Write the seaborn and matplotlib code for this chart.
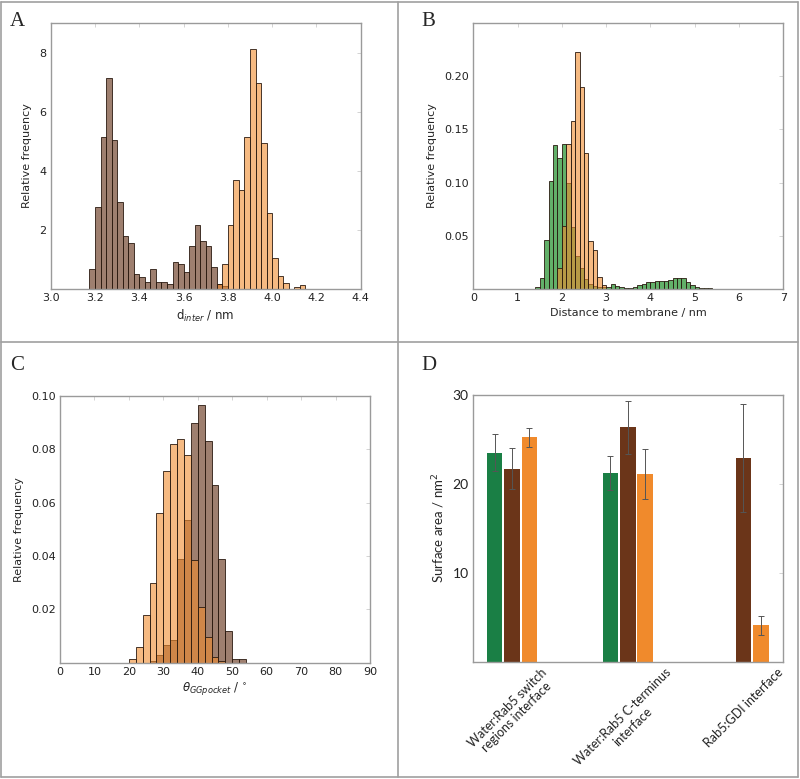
import numpy as np
import pandas as pd
import matplotlib
matplotlib.use("Agg")
import matplotlib.pyplot as plt
import seaborn as sns
from matplotlib.lines import Line2D

# ---------------- data ----------------
# Panel A: d_inter histograms (bin start, bin width, relative frequencies)
a_bin_start = 3.175
a_bin_width = 0.025
a_brown = [0.68, 2.78, 5.15, 7.16, 5.06, 2.97, 1.82, 1.56, 0.52, 0.43, 0.24, 0.68,
           0.24, 0.24, 0.17, 0.94, 0.86, 0.60, 1.47, 2.17, 1.65, 1.47, 0.77, 0.17, 0.10]
a_orange_start = 3.75
a_orange = [0.17, 0.86, 2.17, 3.69, 3.37, 5.15, 8.14, 7.00, 4.97, 2.58, 1.05, 0.45,
            0.23, 0.0, 0.09, 0.15]

# Panel B: distance to membrane histograms
b_bin_width = 0.1
b_green_start = 1.4
b_green = [0.002, 0.011, 0.046, 0.1015, 0.135, 0.123, 0.136, 0.100, 0.058, 0.031,
           0.020, 0.010, 0.005, 0.003, 0.002, 0.002, 0.002, 0.0053, 0.0034, 0.002,
           0.0012, 0.0015, 0.0025, 0.004, 0.0053, 0.0072, 0.0065, 0.008, 0.008, 0.008,
           0.0087, 0.0103, 0.0103, 0.0103, 0.0072, 0.004, 0.0025, 0.0015, 0.001, 0.0008]
b_orange_start = 1.9
b_orange = [0.020, 0.059, 0.136, 0.158, 0.223, 0.190, 0.128, 0.045, 0.037, 0.012, 0.004]

# Panel C: theta GGpocket histograms
c_bin_start = 20
c_bin_width = 2
c_brown = [0, 0, 0, 0.0005, 0.003, 0.0065, 0.0085, 0.039, 0.0535, 0.090, 0.0965,
           0.083, 0.0665, 0.039, 0.012, 0.0014, 0.0014]
c_orange = [0.0013, 0.0059, 0.0179, 0.030, 0.056, 0.0719, 0.0821, 0.084, 0.078,
            0.0385, 0.0208, 0.0098, 0.0023, 0.0005, 0, 0, 0]

# Panel D: surface areas
d_categories = ["Water:Rab5 switch\nregions interface",
                "Water:Rab5 C-terminus\ninterface",
                "Rab5:GDI interface"]
d_systems = ["green", "brown", "orange"]
d_green = [23.5, 21.2, np.nan]
d_brown = [21.7, 26.35, 22.9]
d_orange = [25.2, 21.1, 4.07]
d_green_err = [2.05, 1.9, np.nan]
d_brown_err = [2.35, 3.0, 6.1]
d_orange_err = [1.1, 2.85, 1.05]

# ---------------- style ----------------
sns.set_style("white")
plt.rcParams["font.family"] = ["DejaVu Sans"]
plt.rcParams["mathtext.fontset"] = "dejavusans"

BROWN = "#5d2a10"
ORANGE = "#f08c2f"
GREEN = "#1f8f2a"
EDGE = "#2a1a10"
SPINE = "#9a9a9a"

fig = plt.figure(figsize=(8.0, 7.79), dpi=100)


def style_axes(ax, fs=8):
    for s in ax.spines.values():
        s.set_color(SPINE)
        s.set_linewidth(1.0)
        s.set_visible(True)
    ax.tick_params(direction="in", length=3, width=0.6, color="#cccccc",
                   labelsize=fs, pad=3, top=True, right=True,
                   labelcolor="#222222")


def hist(ax, start, width, vals, color, alpha):
    n = len(vals)
    edges = start + width * np.arange(n + 1)
    centers = edges[:-1] + width / 2
    hd = pd.DataFrame({"x": centers, "w": np.asarray(vals, dtype=float)})
    sns.histplot(data=hd, x="x", weights="w", bins=edges.tolist(), ax=ax,
                 color=color, alpha=alpha, edgecolor=EDGE, linewidth=0.6)


# Panel A
axA = fig.add_axes([0.0634, 0.6286, 0.3875, 0.3422])
hist(axA, a_bin_start, a_bin_width, a_brown, BROWN, 0.6)
hist(axA, a_orange_start, a_bin_width, a_orange, ORANGE, 0.6)
axA.set_xlim(3.0, 4.4)
axA.set_ylim(0, 9.03)
axA.set_xticks(np.arange(3.0, 4.41, 0.2))
axA.set_xticklabels([f"{v:.1f}" for v in np.arange(3.0, 4.41, 0.2)])
axA.set_yticks([2, 4, 6, 8])
axA.set_xlabel(r"d$_{inter}$ / nm", fontsize=8.5, labelpad=3)
axA.set_ylabel("Relative frequency", fontsize=8, labelpad=5)
style_axes(axA)

# Panel B
axB = fig.add_axes([0.5916, 0.6286, 0.3875, 0.3422])
hist(axB, b_green_start, b_bin_width, b_green, GREEN, 0.7)
hist(axB, b_orange_start, b_bin_width, b_orange, ORANGE, 0.6)
axB.set_xlim(0, 7)
axB.set_ylim(0, 0.25)
axB.set_xticks(range(0, 8))
axB.set_yticks([0.05, 0.10, 0.15, 0.20])
axB.set_yticklabels(["0.05", "0.10", "0.15", "0.20"])
axB.set_xlabel("Distance to membrane / nm", fontsize=8, labelpad=3)
axB.set_ylabel("Relative frequency", fontsize=8, labelpad=5)
style_axes(axB)

# Panel C
axC = fig.add_axes([0.075, 0.1493, 0.3875, 0.3424])
hist(axC, c_bin_start, c_bin_width, c_brown, BROWN, 0.6)
hist(axC, c_bin_start, c_bin_width, c_orange, ORANGE, 0.6)
axC.set_xlim(0, 90)
axC.set_ylim(0, 0.10)
axC.set_xticks(range(0, 91, 10))
axC.set_yticks([0.02, 0.04, 0.06, 0.08, 0.10])
axC.set_yticklabels(["0.02", "0.04", "0.06", "0.08", "0.10"])
axC.set_xlabel(r"$\theta_{GGpocket}$ / $^{\circ}$", fontsize=8.5, labelpad=3)
axC.set_ylabel("Relative frequency", fontsize=8, labelpad=5)
style_axes(axC)

# Panel D
axD = fig.add_axes([0.5909, 0.1506, 0.3875, 0.3427])
df = pd.DataFrame({
    "interface": d_categories * 3,
    "system": [d_systems[0]] * 3 + [d_systems[1]] * 3 + [d_systems[2]] * 3,
    "area": d_green + d_brown + d_orange,
    "err": d_green_err + d_brown_err + d_orange_err,
})
df = df.dropna()
sns.barplot(data=df, x="interface", y="area", hue="system", hue_order=d_systems,
            order=d_categories, palette=["#1a7f45", "#6b3519", "#f08a2c"],
            width=0.45, gap=0.1, errorbar=None, linewidth=0, saturation=1,
            legend=False, ax=axD)
for cont, sysname in zip(axD.containers, d_systems):
    sub = df[df["system"] == sysname]
    present = [c for c in d_categories if c in set(sub["interface"])]
    errs = sub.set_index("interface").loc[present, "err"].values
    xs = [b.get_x() + b.get_width() / 2 for b in cont]
    ys = [b.get_height() for b in cont]
    axD.errorbar(xs, ys, yerr=errs, fmt="none", ecolor="#555555",
                 elinewidth=0.7, capsize=2, capthick=0.7)
axD.set_ylim(0, 30)
axD.set_yticks([10, 20, 30])
axD.set_xlabel("")
axD.set_ylabel(r"Surface area / nm$^2$", fontsize=9.5, labelpad=4,
               family=["Lato", "DejaVu Sans"])
style_axes(axD, fs=10)
axD.tick_params(axis="x", length=0)
for lab in axD.get_yticklabels():
    lab.set_family(["Lato", "DejaVu Sans"])
for lab in axD.get_xticklabels():
    lab.set_rotation(45)
    lab.set_ha("center")
    lab.set_fontsize(9)
    lab.set_family(["Lato", "DejaVu Sans"])

# Panel letters
for x, y, t in [(0.0125, 0.985, "A"), (0.527, 0.985, "B"),
                (0.0125, 0.543, "C"), (0.527, 0.543, "D")]:
    fig.text(x, y, t, fontsize=15, family="Liberation Serif", va="top", ha="left")

# Frame lines
lc = "#a0a0a0"
lines = [([0.00125, 0.99750], [0.998, 0.998]),
         ([0.00125, 0.99750], [0.0026, 0.0026]),
         ([0.00125, 0.00125], [0.0026, 0.998]),
         ([0.99750, 0.99750], [0.0026, 0.998]),
         ([0.4975, 0.4975], [0.0026, 0.998]),
         ([0.00125, 0.99750], [0.561, 0.561])]
for xs_, ys_ in lines:
    fig.add_artist(Line2D(xs_, ys_, transform=fig.transFigure, color=lc, lw=1.2))

fig.savefig("out.png", dpi=100)
